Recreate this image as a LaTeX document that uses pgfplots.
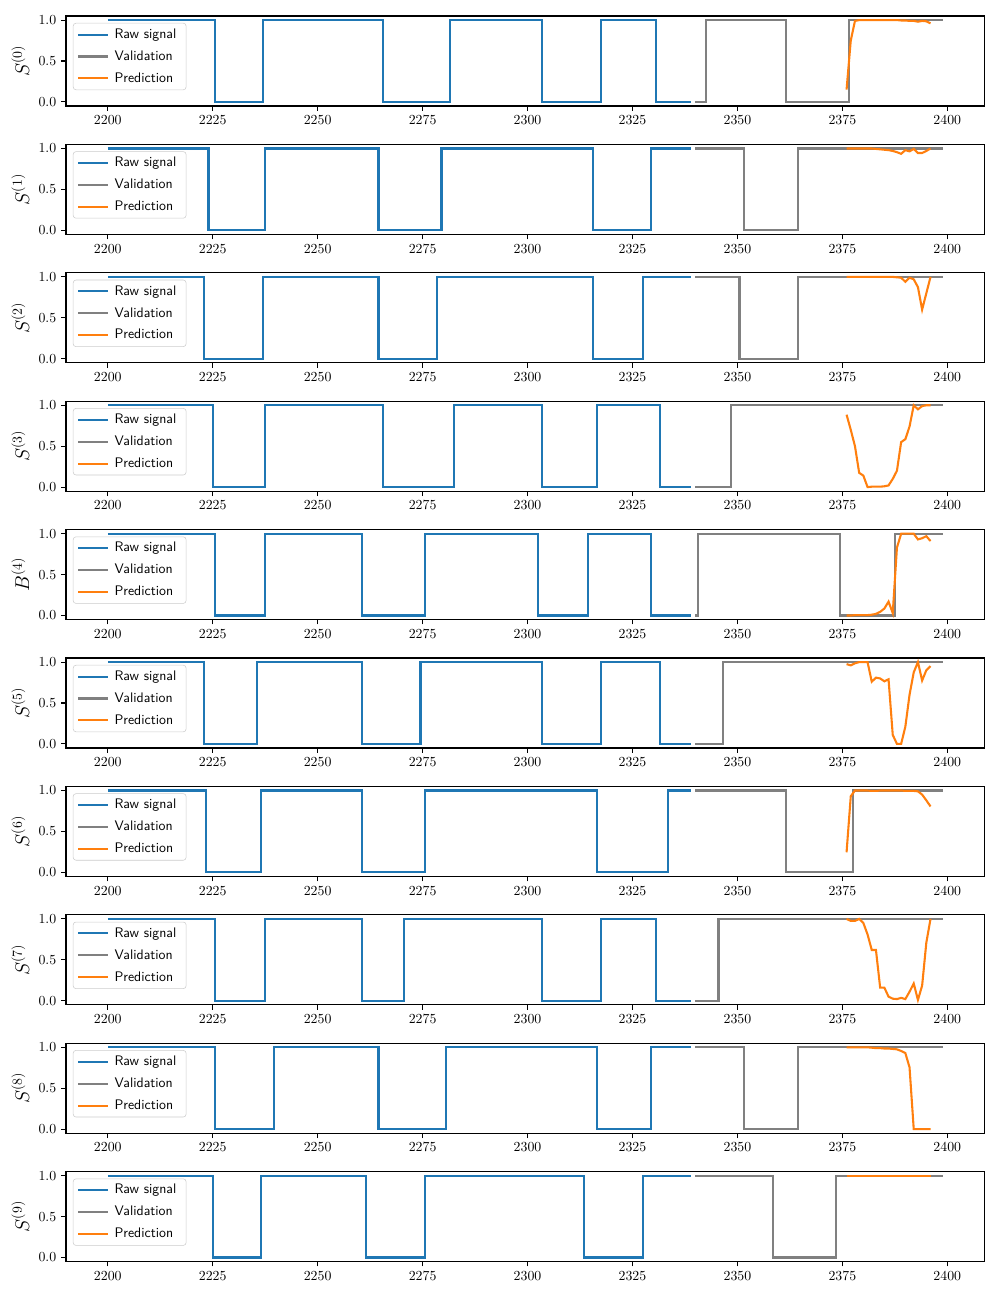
\documentclass[border=0pt]{standalone}
\usepackage{pgfplots}
\pgfplotsset{compat=1.18}

\definecolor{mplblue}{HTML}{1F77B4}
\definecolor{mplorange}{HTML}{FF7F0E}
\definecolor{mplgray}{HTML}{808080}

% 1px of the 1000x1300 figure = 0.0254cm
\pgfplotsset{
  panel/.style={
    scale only axis,
    width=23.34cm, height=2.286cm,
    anchor=north west,
    xmin=2190.05, xmax=2408.95,
    ymin=-0.05, ymax=1.05,
    xtick={2200,2225,...,2400},
    ytick={0,0.5,1},
    yticklabel style={/pgf/number format/.cd, fixed, fixed zerofill, precision=1},
    xticklabel style={/pgf/number format/1000 sep={}},
    tick align=outside,
    xtick pos=bottom, ytick pos=left,
    major tick length=3.5bp,
    tick style={black, line width=0.8bp},
    axis line style={line width=0.8bp},
    ylabel style={font=\Large},
    legend style={at={(0,1)}, anchor=north west, xshift=5bp, yshift=-5bp,
      draw=black!20, rounded corners=2bp, fill=white, fill opacity=0.8,
      draw opacity=1, text opacity=1, font=\sffamily, row sep=3.4pt,
      nodes={inner xsep=4pt}},
    legend cell align=left,
    legend image code/.code={\draw[#1] (0cm,0cm) -- (0.75cm,0cm);},
    legend entries={Raw signal, Validation, Prediction},
  },
  raw/.style={const plot, color=mplblue, line width=1.5bp, no markers},
  val/.style={const plot, color=mplgray, line width=1.5bp, no markers},
  pred/.style={color=mplorange, line width=1.5bp, no markers},
}

\begin{document}
\begin{tikzpicture}
\path[use as bounding box] (0,0) rectangle (25.4cm,-33.02cm);

% S0
\begin{axis}[panel, at={(1.676cm,-0.406cm)}, ylabel={$S^{(0)}$}]
\addplot[raw] coordinates {(2200,1)(2225.5,0)(2237,1)(2265.5,0)(2281.5,1)(2303.5,0)(2317.5,1)(2330.5,0)(2339,0)};
\addplot[val] coordinates {(2340,0)(2342.5,1)(2361.5,0)(2376.5,1)(2399,1)};
\addplot[pred] coordinates {(2376,0.15)(2377,0.75)(2378,0.99)(2379,1.0)(2380,1.0)(2381,1.0)(2382,1.0)(2383,1.0)(2384,1.0)(2385,1.0)(2386,1.0)(2387,1.0)(2388,1.0)(2389,0.995)(2390,0.995)(2391,0.99)(2392,0.99)(2393,0.98)(2394,0.99)(2395,0.985)(2396,0.96)};
\end{axis}

% S1
\begin{axis}[panel, at={(1.676cm,-3.668cm)}, ylabel={$S^{(1)}$}]
\addplot[raw] coordinates {(2200,1)(2224,0)(2237.5,1)(2264.5,0)(2279.5,1)(2315.5,0)(2329.5,1)(2339,1)};
\addplot[val] coordinates {(2340,1)(2351.5,0)(2364.5,1)(2399,1)};
\addplot[pred] coordinates {(2376,1.0)(2377,1.0)(2378,1.0)(2379,1.0)(2380,1.0)(2381,1.0)(2382,1.0)(2383,0.995)(2384,0.99)(2385,0.985)(2386,0.98)(2387,0.97)(2388,0.955)(2389,0.935)(2390,0.98)(2391,0.965)(2392,0.995)(2393,0.945)(2394,0.945)(2395,0.97)(2396,1.0)};
\end{axis}

% S2
\begin{axis}[panel, at={(1.676cm,-6.929cm)}, ylabel={$S^{(2)}$}]
\addplot[raw] coordinates {(2200,1)(2223,0)(2237,1)(2264.5,0)(2278.5,1)(2315.5,0)(2327.5,1)(2339,1)};
\addplot[val] coordinates {(2340,1)(2350.5,0)(2364.5,1)(2399,1)};
\addplot[pred] coordinates {(2376,1.0)(2377,1.0)(2378,1.0)(2379,1.0)(2380,1.0)(2381,1.0)(2382,1.0)(2383,1.0)(2384,1.0)(2385,1.0)(2386,1.0)(2387,1.0)(2388,0.995)(2389,0.99)(2390,0.94)(2391,0.99)(2392,0.97)(2393,0.875)(2394,0.60)(2395,0.80)(2396,1.0)};
\end{axis}

% S3
\begin{axis}[panel, at={(1.676cm,-10.190cm)}, ylabel={$S^{(3)}$}]
\addplot[raw] coordinates {(2200,1)(2225,0)(2237.5,1)(2265.5,0)(2282.5,1)(2303.5,0)(2316.5,1)(2331.5,0)(2339,0)};
\addplot[val] coordinates {(2340,0)(2348.5,1)(2399,1)};
\addplot[pred] coordinates {(2376,0.885)(2377,0.70)(2378,0.50)(2379,0.175)(2380,0.14)(2381,0.0)(2382,0.005)(2383,0.005)(2384,0.005)(2385,0.01)(2386,0.02)(2387,0.10)(2388,0.20)(2389,0.55)(2390,0.585)(2391,0.74)(2392,1.0)(2393,0.95)(2394,0.99)(2395,1.0)(2396,1.0)};
\end{axis}

% B4
\begin{axis}[panel, at={(1.676cm,-13.452cm)}, ylabel={$B^{(4)}$}]
\addplot[raw] coordinates {(2200,1)(2225.5,0)(2237.5,1)(2260.5,0)(2275.5,1)(2302.5,0)(2314.5,1)(2329.5,0)(2339,0)};
\addplot[val] coordinates {(2340,0)(2340.5,1)(2374.5,0)(2387.5,1)(2399,1)};
\addplot[pred] coordinates {(2376,0.0)(2377,0.0)(2378,0.005)(2379,0.005)(2380,0.005)(2381,0.005)(2382,0.01)(2383,0.02)(2384,0.045)(2385,0.085)(2386,0.17)(2387,0.03)(2388,0.83)(2389,1.0)(2390,1.0)(2391,1.0)(2392,1.0)(2393,0.93)(2394,0.945)(2395,0.97)(2396,0.91)};
\end{axis}

% S5
\begin{axis}[panel, at={(1.676cm,-16.713cm)}, ylabel={$S^{(5)}$}]
\addplot[raw] coordinates {(2200,1)(2223,0)(2235.5,1)(2260.5,0)(2274.5,1)(2303.5,0)(2317.5,1)(2331.5,0)(2339,0)};
\addplot[val] coordinates {(2340,0)(2346.5,1)(2399,1)};
\addplot[pred] coordinates {(2376,0.975)(2377,0.96)(2378,0.985)(2379,1.0)(2380,1.0)(2381,1.0)(2382,0.76)(2383,0.81)(2384,0.80)(2385,0.765)(2386,0.79)(2387,0.11)(2388,0.0)(2389,0.0)(2390,0.21)(2391,0.60)(2392,0.875)(2393,1.0)(2394,0.775)(2395,0.90)(2396,0.95)};
\end{axis}

% S6
\begin{axis}[panel, at={(1.676cm,-19.975cm)}, ylabel={$S^{(6)}$}]
\addplot[raw] coordinates {(2200,1)(2223.5,0)(2236.5,1)(2260.5,0)(2275.5,1)(2316.5,0)(2333.5,1)(2339,1)};
\addplot[val] coordinates {(2340,1)(2361.5,0)(2377.5,1)(2399,1)};
\addplot[pred] coordinates {(2376,0.245)(2377,0.93)(2378,1.0)(2379,1.0)(2380,1.0)(2381,1.0)(2382,0.995)(2383,0.995)(2384,1.0)(2385,1.0)(2386,1.0)(2387,1.0)(2388,1.0)(2389,1.0)(2390,0.995)(2391,0.995)(2392,0.995)(2393,0.99)(2394,0.95)(2395,0.88)(2396,0.805)};
\end{axis}

% S7
\begin{axis}[panel, at={(1.676cm,-23.236cm)}, ylabel={$S^{(7)}$}]
\addplot[raw] coordinates {(2200,1)(2225.5,0)(2237.5,1)(2260.5,0)(2270.5,1)(2303.5,0)(2317.5,1)(2330.5,0)(2339,0)};
\addplot[val] coordinates {(2340,0)(2345.5,1)(2399,1)};
\addplot[pred] coordinates {(2376,1.0)(2377,0.975)(2378,0.975)(2379,1.0)(2380,0.95)(2381,0.81)(2382,0.62)(2383,0.62)(2384,0.16)(2385,0.16)(2386,0.05)(2387,0.025)(2388,0.02)(2389,0.035)(2390,0.02)(2391,0.11)(2392,0.21)(2393,0.01)(2394,0.185)(2395,0.71)(2396,1.0)};
\end{axis}

% S8
\begin{axis}[panel, at={(1.676cm,-26.497cm)}, ylabel={$S^{(8)}$}]
\addplot[raw] coordinates {(2200,1)(2225.5,0)(2239.5,1)(2264.5,0)(2280.5,1)(2316.5,0)(2329.5,1)(2339,1)};
\addplot[val] coordinates {(2340,1)(2351.5,0)(2364.5,1)(2399,1)};
\addplot[pred] coordinates {(2376,1.0)(2377,1.0)(2378,1.0)(2379,1.0)(2380,1.0)(2381,1.0)(2382,0.995)(2383,0.99)(2384,0.99)(2385,0.985)(2386,0.985)(2387,0.98)(2388,0.975)(2389,0.955)(2390,0.93)(2391,0.755)(2392,0.0)(2393,0.0)(2394,0.0)(2395,0.0)(2396,0.0)};
\end{axis}

% S9
\begin{axis}[panel, at={(1.676cm,-29.759cm)}, ylabel={$S^{(9)}$}]
\addplot[raw] coordinates {(2200,1)(2225,0)(2236.5,1)(2261.5,0)(2275.5,1)(2313.5,0)(2327.5,1)(2339,1)};
\addplot[val] coordinates {(2340,1)(2358.5,0)(2373.5,1)(2399,1)};
\addplot[pred] coordinates {(2376,1.0)(2377,1.0)(2378,1.0)(2379,1.0)(2380,1.0)(2381,1.0)(2382,1.0)(2383,1.0)(2384,1.0)(2385,1.0)(2386,1.0)(2387,1.0)(2388,1.0)(2389,1.0)(2390,1.0)(2391,1.0)(2392,1.0)(2393,1.0)(2394,1.0)(2395,1.0)(2396,1.0)};
\end{axis}

\end{tikzpicture}
\end{document}
